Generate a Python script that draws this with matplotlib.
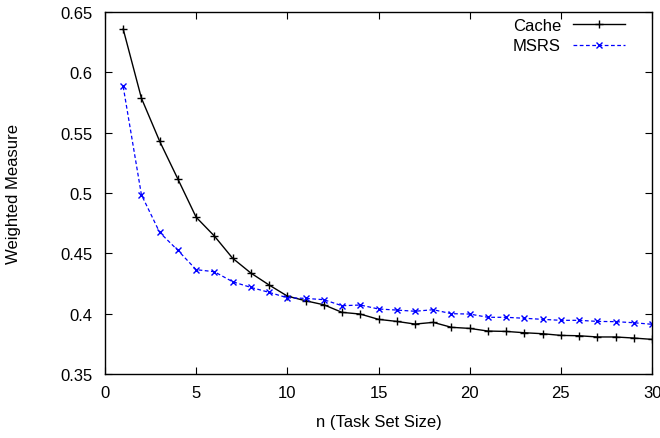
import matplotlib
matplotlib.use("Agg")
import matplotlib.pyplot as plt
from matplotlib.ticker import FuncFormatter

plt.rcParams['font.family'] = ['Liberation Sans', 'DejaVu Sans']

n = list(range(1, 31))
cache = [0.636, 0.5787, 0.543, 0.5116, 0.480, 0.4644, 0.446, 0.4337, 0.4238, 0.4146,
         0.4107, 0.4074, 0.4011, 0.3997, 0.3953, 0.3936, 0.3914, 0.3928, 0.3887, 0.3878,
         0.3856, 0.3853, 0.3842, 0.3834, 0.382, 0.3817, 0.3807, 0.3807, 0.3798, 0.3787]
msrs = [0.5884, 0.4986, 0.4674, 0.4525, 0.4365, 0.4348, 0.4265, 0.4218, 0.4177, 0.4132,
        0.4127, 0.4116, 0.4066, 0.4072, 0.4039, 0.403, 0.402, 0.4033, 0.400, 0.3997,
        0.397, 0.397, 0.3962, 0.3953, 0.3945, 0.3945, 0.3936, 0.3934, 0.3925, 0.3912]
xticks = [0, 5, 10, 15, 20, 25, 30]
yticks = [0.35, 0.4, 0.45, 0.5, 0.55, 0.6, 0.65]

fig = plt.figure(figsize=(6.6, 4.39), dpi=100)
ax = fig.add_axes([0.159, 0.1458, 0.829, 0.8242])

ax.plot(n, cache, color='black', lw=1.0, marker='+', ms=6, mew=1.0, label='Cache')
ax.plot(n, msrs, color='blue', lw=0.9, ls=(0, (3, 2)), marker='x', ms=5, mew=1.0, label='MSRS')

ax.set_xlim(0, 30)
ax.set_ylim(0.35, 0.65)
ax.set_xticks(xticks)
ax.set_yticks(yticks)
ax.yaxis.set_major_formatter(FuncFormatter(lambda v, p: ('%g' % round(v, 2))))
ax.tick_params(direction='in', top=True, right=True, length=5, labelsize=12, width=0.8)
ax.tick_params(axis='y', pad=9)
ax.tick_params(axis='x', pad=8)
for s in ax.spines.values():
    s.set_linewidth(1.0)

ax.set_xlabel('n (Task Set Size)', fontsize=12, labelpad=10)
ax.set_ylabel('Weighted Measure', fontsize=12, labelpad=28)

leg = ax.legend(loc='upper right', bbox_to_anchor=(0.9506, 0.985), frameon=False,
                markerfirst=False, fontsize=12, handlelength=3.1, handletextpad=0.75,
                borderaxespad=0, borderpad=0, labelspacing=0.35)
for t in leg.get_texts():
    t.set_ha('right')

fig.savefig('out.png', dpi=100)
